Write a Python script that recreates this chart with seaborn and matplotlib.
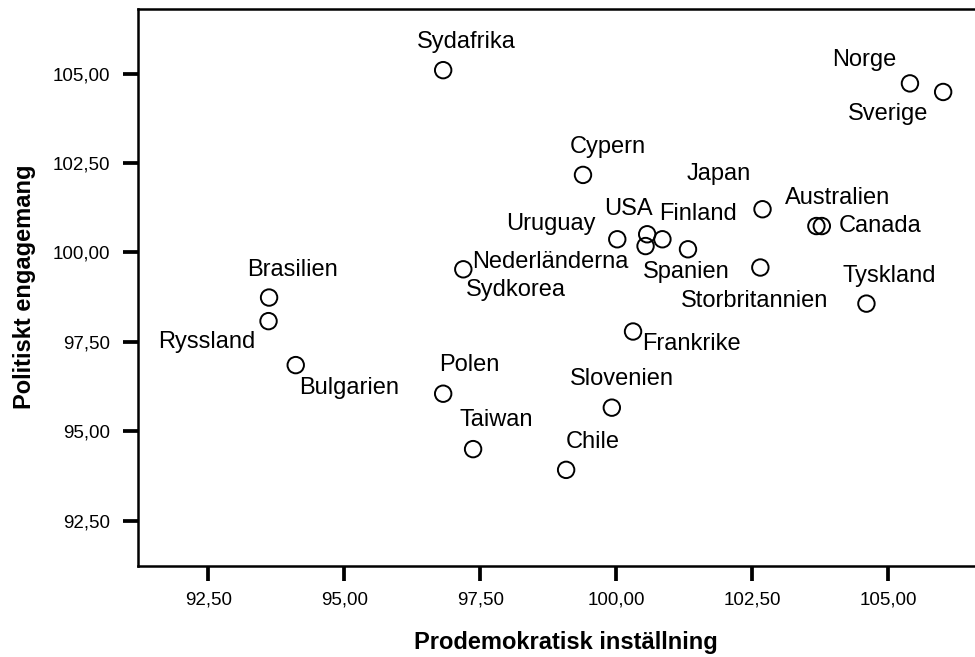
import matplotlib
matplotlib.use('Agg')
import matplotlib.pyplot as plt
import seaborn as sns
import pandas as pd

# country means
countries = ['Sydafrika', 'Norge', 'Sverige', 'Cypern', 'Japan', 'Australien', 'Canada',
             'Uruguay', 'USA', 'Finland', 'Spanien', 'Nederländerna', 'Sydkorea',
             'Storbritannien', 'Tyskland', 'Brasilien', 'Ryssland', 'Bulgarien', 'Polen',
             'Taiwan', 'Frankrike', 'Slovenien', 'Chile', '']
prodemokratisk = [96.82, 105.40, 106.01, 99.39, 102.69, 103.68, 103.78,
                  100.02, 100.57, 100.85, 101.32, 97.19, 97.19,
                  102.65, 104.60, 93.62, 93.61, 94.11, 96.82,
                  97.37, 100.31, 99.92, 99.08, 100.54]
engagemang = [105.10, 104.73, 104.49, 102.17, 101.21, 100.74, 100.74,
              100.37, 100.51, 100.37, 100.09, 99.53, 99.53,
              99.58, 98.57, 98.74, 98.08, 96.85, 96.05,
              94.50, 97.79, 95.66, 93.92, 100.18]

tick_values = [92.5, 95.0, 97.5, 100.0, 102.5, 105.0]
tick_labels = ['92,50', '95,00', '97,50', '100,00', '102,50', '105,00']

# where each label sits relative to its marker (points)
label_offsets = {
    'Sydafrika': (-18.7, 16.1), 'Norge': (-55.8, 12.5), 'Sverige': (-68.6, -20.4),
    'Cypern': (-9.6, 15.8), 'Japan': (-54.5, 21.1), 'Australien': (-22.8, 15.8),
    'Canada': (12.5, -4.3), 'Uruguay': (-80.1, 6.5), 'USA': (-31.2, 13.7),
    'Finland': (-2.7, 13.9), 'Spanien': (-32.4, -20.4), 'Nederländerna': (6.0, 1.2),
    'Sydkorea': (1.7, -19.2), 'Storbritannien': (-56.9, -28.3), 'Tyskland': (-17.3, 15.8),
    'Brasilien': (-16.1, 15.6), 'Ryssland': (-79.5, -19.7), 'Bulgarien': (2.4, -20.9),
    'Polen': (-2.9, 16.0), 'Taiwan': (-9.6, 16.8), 'Frankrike': (6.5, -13.4),
    'Slovenien': (-30.5, 16.3), 'Chile': (0.0, 16.1),
}


def plot_scatter():
    sns.set_style('white')
    plt.rcParams['font.family'] = ['Liberation Sans', 'DejaVu Sans']

    df = pd.DataFrame({'land': countries, 'x': prodemokratisk, 'y': engagemang})
    # coincident countries share one marker
    markers = df.drop_duplicates(subset=['x', 'y'])

    fig = plt.figure(figsize=(9.75, 6.57), dpi=100)
    ax = fig.add_axes([0.1415, 0.139, 0.878, 0.8478])

    sns.scatterplot(data=markers, x='x', y='y', s=140, facecolor='none',
                    edgecolor='black', linewidth=1.4, ax=ax, clip_on=False)

    for name, x, y in zip(countries, prodemokratisk, engagemang):
        if not name:
            continue
        ax.annotate(name, (x, y), xytext=label_offsets[name], textcoords='offset points',
                    ha='left', va='baseline', fontsize=17, color='black')

    ax.set_xlim(91.21, 106.945)
    ax.set_ylim(91.24, 106.82)
    ax.set_xticks(tick_values)
    ax.set_xticklabels(tick_labels)
    ax.set_yticks(tick_values)
    ax.set_yticklabels(tick_labels)

    ax.set_xlabel('Prodemokratisk inställning', fontsize=17, fontweight='bold',
                  labelpad=16, color='black')
    ax.set_ylabel('Politiskt engagemang', fontsize=17, fontweight='bold',
                  labelpad=12, color='black')

    for side in ['left', 'bottom', 'top', 'right']:
        ax.spines[side].set_linewidth(1.8)
        ax.spines[side].set_color('black')
    ax.tick_params(axis='both', direction='out', length=10.5, width=2.7, color='black',
                   labelsize=13.5, labelcolor='black', left=True, bottom=True)
    ax.tick_params(axis='x', pad=8)
    ax.tick_params(axis='y', pad=9.5)

    fig.savefig('out.png', dpi=100)


if __name__ == '__main__':
    plot_scatter()
